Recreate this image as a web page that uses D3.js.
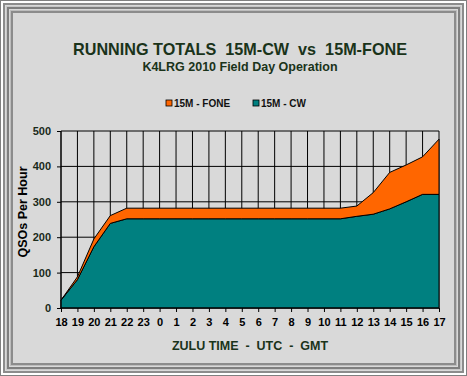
<!DOCTYPE html>
<html lang="en">
<head>
<meta charset="UTF-8">
<title>Running Totals 15M-CW vs 15M-FONE</title>
<script src="https://d3js.org/d3.v7.min.js"></script>
<style>
  body { margin: 0; background: #d9d9d9; }
  svg { display: block; font-family: Arial, "Liberation Sans", sans-serif; }
</style>
</head>
<body>
<div id="chart"></div>
<script>
// zulu hours, 18z saturday to 17z sunday
const hours = ["18","19","20","21","22","23","0","1","2","3","4","5","6","7","8","9","10","11","12","13","14","15","16","17"];
const cw   = [22, 80, 173, 239, 252, 252, 252, 252, 252, 252, 252, 252, 252, 252, 252, 252, 252, 252, 259, 265, 280, 300, 321, 321];
const fone = [0, 8, 22, 22, 30, 30, 30, 30, 30, 30, 30, 30, 30, 30, 30, 30, 30, 30, 29, 61, 103, 104, 106, 156];
const yTicks = [0, 100, 200, 300, 400, 500];

const W = 467, H = 376;
const svg = d3.select("#chart").append("svg").attr("width", W).attr("height", H);

// frame
svg.append("rect").attr("width", W).attr("height", H).attr("fill", "#d9d9d9");
const frame = [
  [0.5, "#808080", 1], [2, "#ffffff", 2], [4, "#8c8c8c", 2], [6.5, "#c8c8c8", 1],
  [8, "#7f7f7f", 2], [10.5, "#bdbdbd", 1], [12, "#8c8c8c", 2]
];
frame.forEach(([o, c, w]) => {
  svg.append("rect").attr("x", o).attr("y", o)
    .attr("width", W - 2 * o).attr("height", H - 2 * o)
    .attr("fill", "none").attr("stroke", c).attr("stroke-width", w);
});

const m = { left: 61, right: 439, top: 131, bottom: 308 };
const x = d3.scalePoint().domain(hours).range([m.left, m.right]);
const y = d3.scaleLinear().domain([0, 500]).range([m.bottom, m.top]);

// stacked data
const rows = hours.map((h, i) => ({ h, cw: cw[i], fone: fone[i] }));
const stack = d3.stack().keys(["cw", "fone"])(rows);
const colors = { cw: "#008080", fone: "#ff6600" };

const area = d3.area()
  .x(d => x(d.data.h))
  .y0(d => y(d[0]))
  .y1(d => y(d[1]));

// grid
const g = svg.append("g");
g.selectAll(".hg").data(yTicks).join("line")
  .attr("x1", m.left).attr("x2", m.right)
  .attr("y1", d => y(d)).attr("y2", d => y(d))
  .attr("stroke", "#000").attr("stroke-width", 1);
g.selectAll(".vg").data(hours).join("line")
  .attr("x1", d => x(d)).attr("x2", d => x(d))
  .attr("y1", m.top).attr("y2", m.bottom)
  .attr("stroke", "#000").attr("stroke-width", 1);

// areas
svg.selectAll(".area").data(stack).join("path")
  .attr("d", area)
  .attr("fill", d => colors[d.key])
  .attr("stroke", "#000").attr("stroke-width", 1)
  .attr("stroke-linejoin", "round");

// axes
const xAxis = svg.append("g").attr("transform", `translate(0,${m.bottom})`)
  .call(d3.axisBottom(x).tickSize(4).tickPadding(6));
const yAxis = svg.append("g").attr("transform", `translate(${m.left},0)`)
  .call(d3.axisLeft(y).tickValues(yTicks).tickSize(4).tickPadding(6));
[xAxis, yAxis].forEach(a => {
  a.select(".domain").attr("stroke", "#000");
  a.selectAll(".tick line").attr("stroke", "#000");
  a.selectAll("text").attr("font-size", 11).attr("font-weight", "bold")
    .attr("font-family", "Arial, 'Liberation Sans', sans-serif");
});
xAxis.selectAll("text").attr("fill", "#000");
yAxis.selectAll("text").attr("fill", "#1a2a1a");
yAxis.select(".domain").attr("d", `M0,${m.top}V${m.bottom}`);
xAxis.select(".domain").attr("d", `M${m.left},0H${m.right}`);

// titles
svg.append("text").attr("x", 240).attr("y", 55).attr("text-anchor", "middle")
  .attr("font-size", 16.2).attr("font-weight", "bold").attr("fill", "#1a331a")
  .attr("xml:space", "preserve")
  .text("RUNNING TOTALS  15M-CW  vs  15M-FONE");
svg.append("text").attr("x", 240).attr("y", 71).attr("text-anchor", "middle")
  .attr("font-size", 12.5).attr("font-weight", "bold").attr("fill", "#1a331a")
  .text("K4LRG 2010 Field Day Operation");

// legend
const legend = [["15M - FONE", colors.fone, 166], ["15M - CW", colors.cw, 253]];
legend.forEach(([label, c, lx]) => {
  svg.append("rect").attr("x", lx).attr("y", 100).attr("width", 6).attr("height", 6)
    .attr("fill", c).attr("stroke", "#000").attr("stroke-width", 0.8);
  svg.append("text").attr("x", lx + 8).attr("y", 107)
    .attr("font-size", 10).attr("font-weight", "bold").attr("fill", "#111")
    .text(label);
});

// axis titles
svg.append("text").attr("transform", "translate(27,212) rotate(-90)")
  .attr("text-anchor", "middle").attr("font-size", 12.5).attr("font-weight", "bold")
  .attr("fill", "#000").text("QSOs Per Hour");
svg.append("text").attr("x", 250).attr("y", 350).attr("text-anchor", "middle")
  .attr("font-size", 12.5).attr("font-weight", "bold").attr("fill", "#1a331a")
  .attr("xml:space", "preserve")
  .text("ZULU TIME  -  UTC  -  GMT");
</script>
</body>
</html>
